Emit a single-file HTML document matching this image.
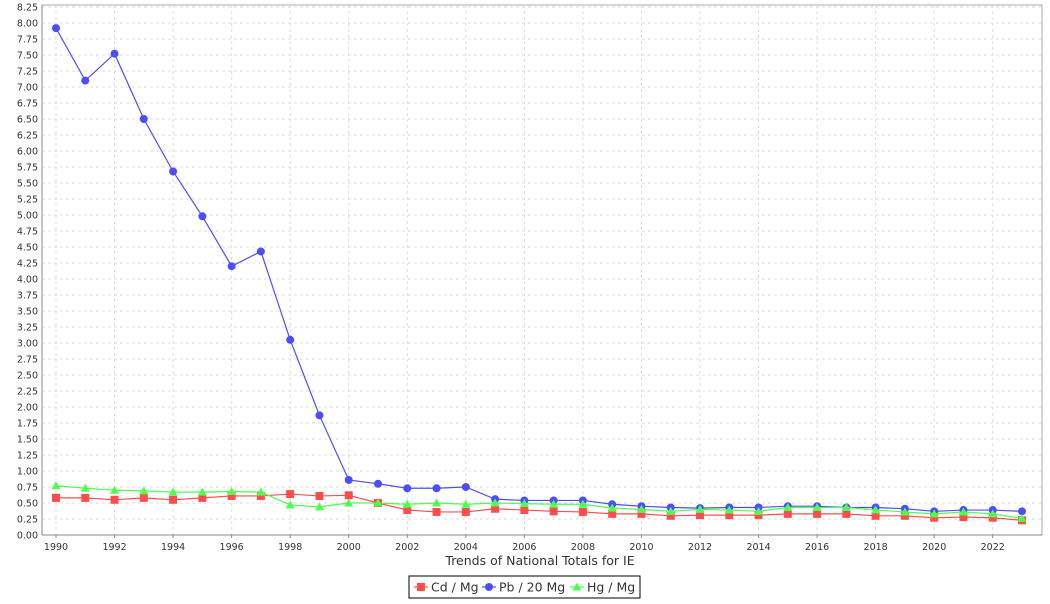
<!DOCTYPE html>
<html><head><meta charset="utf-8"><style>
body{margin:0;background:#fff;font-family:"DejaVu Sans","Liberation Sans",sans-serif;}
svg text{font-family:"DejaVu Sans","Liberation Sans",sans-serif;}
</style></head><body>
<svg id="c" width="1050" height="600" xmlns="http://www.w3.org/2000/svg"></svg>
<script>
const years=[];for(let y=1990;y<=2023;y++)years.push(y);
const cd=[0.58,0.58,0.55,0.58,0.55,0.58,0.61,0.61,0.64,0.61,0.62,0.50,0.39,0.36,0.36,0.41,0.39,0.37,0.36,0.33,0.33,0.30,0.31,0.31,0.31,0.33,0.33,0.33,0.30,0.30,0.27,0.28,0.27,0.23];
const pb=[7.92,7.10,7.52,6.50,5.68,4.98,4.20,4.43,3.05,1.87,0.86,0.80,0.73,0.73,0.75,0.56,0.54,0.54,0.54,0.48,0.45,0.43,0.42,0.43,0.43,0.45,0.45,0.43,0.43,0.41,0.37,0.39,0.39,0.37];
const hg=[0.77,0.73,0.70,0.69,0.67,0.67,0.68,0.67,0.47,0.44,0.50,0.50,0.48,0.50,0.48,0.50,0.49,0.48,0.48,0.42,0.40,0.37,0.40,0.39,0.37,0.43,0.43,0.43,0.39,0.36,0.33,0.36,0.33,0.26];
const yTicks=[];for(let i=0;i<=33;i++)yTicks.push(i*0.25);
const xTicks=[1990,1992,1994,1996,1998,2000,2002,2004,2006,2008,2010,2012,2014,2016,2018,2020,2022];
const L=42,R=1042,T=5,B=535;
const sx=y=>56+(y-1990)*(1022-56)/33;
const sy=v=>B-v*64;
const svg=document.getElementById('c');const NS='http://www.w3.org/2000/svg';
function mk(t,a,p){const e=document.createElementNS(NS,t);for(const k in a)e.setAttribute(k,a[k]);(p||svg).appendChild(e);return e;}
const bg=mk('rect',{x:L,y:T,width:R-L,height:B-T,fill:'#fff',stroke:'#aaa'});


yTicks.forEach(v=>{
 const g=mk('line',{x1:L,x2:R,y1:sy(v),y2:sy(v),stroke:'#ddd','stroke-dasharray':'3,3'});
 
 
 const t=mk('text',{x:L-4,y:sy(v)+3.5,'text-anchor':'end','font-size':9.5,fill:'#333'});t.textContent=v.toFixed(2);
 
 
});
xTicks.forEach(y=>{
 const g=mk('line',{x1:sx(y),x2:sx(y),y1:T,y2:B,stroke:'#ddd','stroke-dasharray':'3,3'});
 
 
 mk('line',{x1:sx(y),x2:sx(y),y1:B,y2:B+3,stroke:'#888'});
 const t=mk('text',{x:sx(y),y:550,'text-anchor':'middle','font-size':9.5,fill:'#333'});t.textContent=y;
 
 
});
mk('line',{x1:L,x2:R,y1:B,y2:B,stroke:'#888'});
mk('line',{x1:L,x2:L,y1:T,y2:B,stroke:'#888'});
const title=mk('text',{x:540,y:565,'text-anchor':'middle','font-size':12.5,fill:'#333'});title.textContent='Trends of National Totals for IE';


function marker(kind,x,y,col,p){
 if(kind==='sq')return mk('rect',{x:x-4,y:y-4,width:8,height:8,fill:col},p);
 if(kind==='ci')return mk('circle',{cx:x,cy:y,r:4,fill:col},p);
 return mk('polygon',{points:`${x},${y-4.5} ${x+4.5},${y+3.5} ${x-4.5},${y+3.5}`,fill:col},p);
}
const series=[[cd,'#ff4d4d','sq','cd'],[pb,'#4d4dff','ci','pb'],[hg,'#4dff4d','tr','hg']];
series.forEach(([d,col,k,n])=>{
 const g=mk('g',{});
 
 
 mk('polyline',{points:d.map((v,i)=>sx(years[i])+','+sy(v)).join(' '),fill:'none',stroke:col,'stroke-width':1.2},g);
 d.forEach((v,i)=>{const m=marker(k,sx(years[i]),sy(v),col,g);
  
  });
});
const lg=mk('g',{});


mk('rect',{x:409,y:576,width:231,height:22,fill:'#fff',stroke:'#000'},lg);
const ents=[['Cd / Mg','#ff4d4d','sq',414],['Pb / 20 Mg','#4d4dff','ci',482],['Hg / Mg','#4dff4d','tr',570]];
ents.forEach(([t,col,k,x])=>{
 const e=mk('g',{},lg);
 
 
 mk('line',{x1:x,x2:x+14,y1:587,y2:587,stroke:col,'stroke-width':1.2},e);
 marker(k,x+7,587,col,e);
 const tx=mk('text',{x:x+17,y:591.5,'font-size':12.5,fill:'#333'},e);tx.textContent=t;
});
</script>
</body></html>
